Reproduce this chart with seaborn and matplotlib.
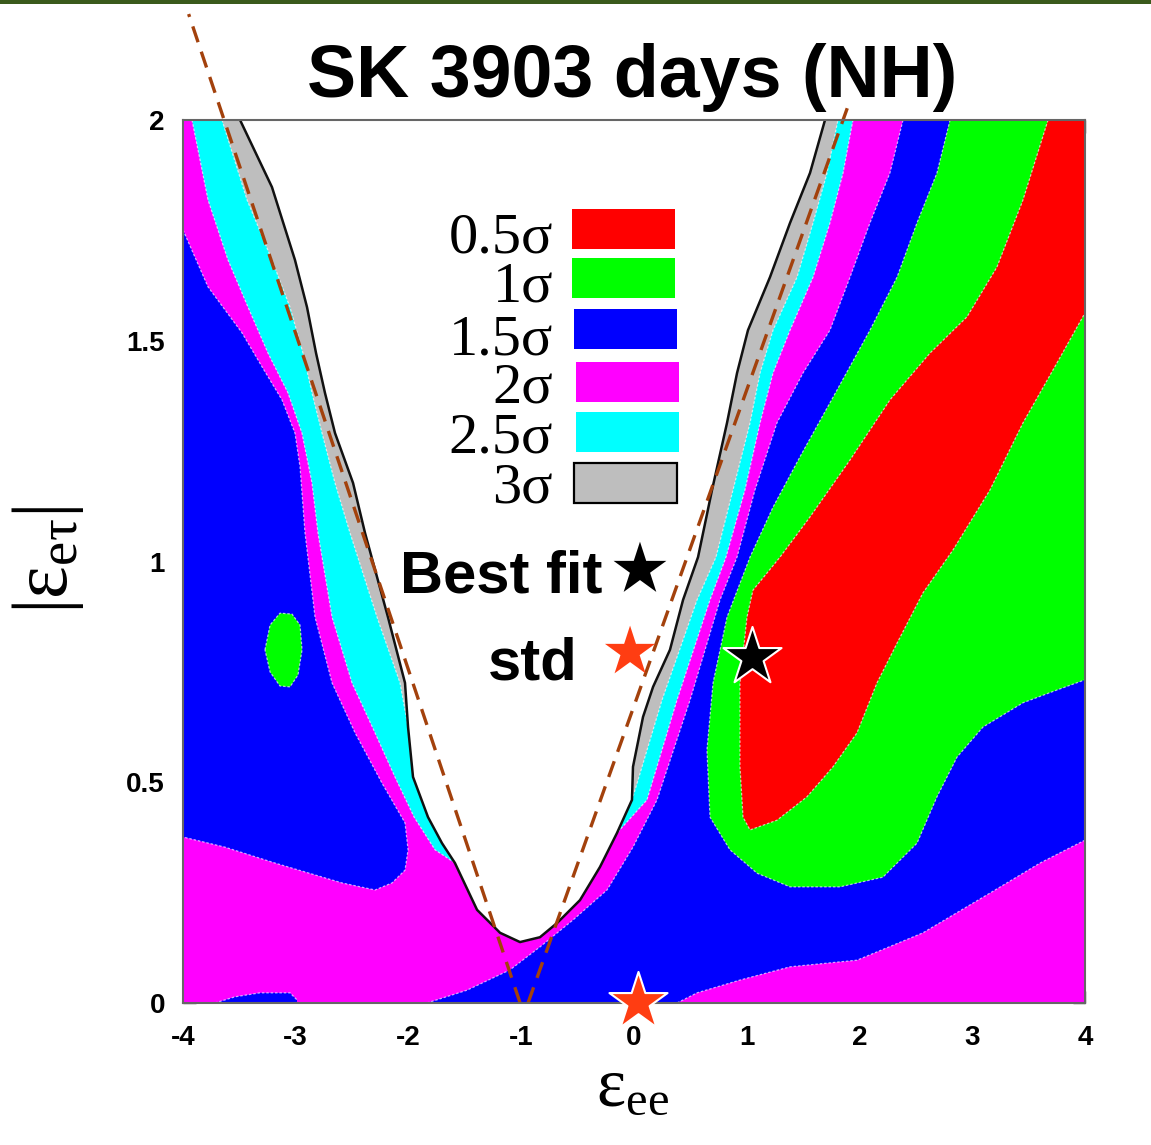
import matplotlib
matplotlib.use('Agg')
import matplotlib.pyplot as plt
import seaborn as sns
import pandas as pd
from matplotlib.patches import Rectangle

sns.set_theme(style='ticks')
plt.rcParams['font.family'] = ['Liberation Sans', 'DejaVu Sans']
plt.rcParams['mathtext.fontset'] = 'custom'
plt.rcParams['mathtext.rm'] = 'Liberation Serif'
plt.rcParams['mathtext.it'] = 'Liberation Serif:italic'
plt.rcParams['text.color'] = 'black'
plt.rcParams['axes.labelcolor'] = 'black'
plt.rcParams['xtick.color'] = 'black'
plt.rcParams['ytick.color'] = 'black'

# ---------------- data ----------------
title = 'SK 3903 days (NH)'
x_ticks = [-4, -3, -2, -1, 0, 1, 2, 3, 4]
x_tick_labels = ['-4', '-3', '-2', '-1', '0', '1', '2', '3', '4']
y_ticks = [0, 0.5, 1, 1.5, 2]
y_tick_labels = ['0', '0.5', '1', '1.5', '2']

sigma_labels = ['0.5σ', '1σ', '1.5σ', '2σ', '2.5σ', '3σ']
sigma_colors = ['#ff0000', '#00ff00', '#0000ff', '#ff00ff', '#00ffff', '#bebebe']

# whole plane (2 sigma background)
bg_x = [-4, 4, 4, -4]
bg_y = [0, 0, 2, 2]

# >3 sigma excluded region boundary (white)
white_x = [-3.494, -3.211, -3.007, -2.900, -2.820, -2.741, -2.652, -2.492, -2.386, -2.182,
           -2.031, -2.004, -1.960, -1.827, -1.703, -1.588, -1.392, -1.188, -1.011, -0.834,
           -0.683, -0.479, -0.302, -0.151, -0.018, -0.009, 0.080, 0.169, 0.319, 0.435,
           0.568, 0.692, 0.825, 0.914, 1.011, 1.206, 1.384, 1.561, 1.694]
white_y = [2.000, 1.848, 1.683, 1.576, 1.472, 1.382, 1.291, 1.178, 1.065, 0.874,
           0.725, 0.625, 0.512, 0.421, 0.362, 0.317, 0.211, 0.159, 0.138, 0.149,
           0.181, 0.233, 0.308, 0.385, 0.460, 0.535, 0.648, 0.716, 0.800, 0.913,
           1.010, 1.162, 1.314, 1.427, 1.524, 1.644, 1.767, 1.880, 2.000]

# 3 sigma outer boundary (grey)
grey_x = [-3.654, -3.432, -3.211, -3.051, -2.936, -2.856, -2.767, -2.652, -2.519, -2.279,
          -2.075, -2.004, -1.960, -1.827, -1.703, -1.588, -1.392, -1.188, -1.011, -0.834,
          -0.683, -0.479, -0.302, -0.151, -0.018, 0.030, 0.248, 0.559, 0.727, 0.878,
          1.029, 1.118, 1.233, 1.446, 1.588, 1.712, 1.809]
grey_y = [2.000, 1.819, 1.683, 1.576, 1.472, 1.382, 1.291, 1.178, 1.065, 0.874,
          0.725, 0.625, 0.512, 0.421, 0.362, 0.317, 0.211, 0.159, 0.138, 0.149,
          0.181, 0.233, 0.308, 0.385, 0.460, 0.500, 0.686, 0.913, 1.010, 1.162,
          1.314, 1.427, 1.524, 1.644, 1.767, 1.880, 2.000]

# 2.5 sigma outer boundary (cyan)
cyan_x = [-3.920, -3.778, -3.601, -3.423, -3.246, -3.069, -2.945, -2.856, -2.803, -2.678,
          -2.501, -2.297, -2.120, -1.950, -1.765, -1.588, -1.392, -1.188, -1.011, -0.834,
          -0.683, -0.479, -0.302, -0.151, 0.115, 0.381, 0.674, 0.816, 0.984, 1.118,
          1.233, 1.384, 1.588, 1.738, 1.854, 1.942]
cyan_y = [2.000, 1.819, 1.683, 1.576, 1.472, 1.382, 1.291, 1.178, 1.065, 0.874,
          0.725, 0.612, 0.512, 0.421, 0.347, 0.317, 0.211, 0.159, 0.138, 0.149,
          0.181, 0.233, 0.308, 0.385, 0.460, 0.686, 0.913, 1.010, 1.162, 1.314,
          1.427, 1.524, 1.644, 1.767, 1.880, 2.000]

# 1.5 sigma region, left
blue_left_x = [-4.000, -3.778, -3.477, -3.299, -3.122, -3.007, -2.962, -2.918, -2.829, -2.678,
               -2.474, -2.235, -2.031, -2.004, -2.031, -2.146, -2.297, -2.590, -3.184, -3.627,
               -4.000]
blue_left_y = [1.751, 1.622, 1.518, 1.441, 1.366, 1.291, 1.214, 1.065, 0.874, 0.725,
               0.612, 0.498, 0.408, 0.347, 0.301, 0.272, 0.256, 0.272, 0.317, 0.353,
               0.376]

# 1.5 sigma sliver at the bottom left
blue_sliver_x = [-3.716, -3.539, -3.317, -3.051, -2.989, -2.989]
blue_sliver_y = [0.000, 0.014, 0.023, 0.023, 0.007, 0.000]

# 1.5 sigma region, right: lower boundary and left boundary
blue_right_low_x = [4.000, 3.601, 3.157, 2.563, 1.978, 1.384, 0.940, 0.559, 0.381]
blue_right_low_y = [0.369, 0.317, 0.249, 0.159, 0.097, 0.082, 0.052, 0.023, 0.000]
blue_right_left_x = [-1.836, -1.481, -1.100, -0.834, -0.541, -0.239, -0.009, 0.204, 0.497, 0.763,
                     0.914, 1.073, 1.268, 1.499, 1.738, 1.916, 2.093, 2.270, 2.386]
blue_right_left_y = [0.000, 0.029, 0.075, 0.127, 0.188, 0.256, 0.353, 0.460, 0.686, 0.913,
                     1.010, 1.162, 1.314, 1.427, 1.524, 1.644, 1.767, 1.880, 2.000]

# 1 sigma region (right)
green_x = [2.803, 2.687, 2.510, 2.333, 2.093, 1.800, 1.472, 1.233, 1.029, 0.825,
           0.701, 0.647, 0.674, 0.851, 1.091, 1.384, 1.827, 2.208, 2.510, 2.687,
           2.865, 3.095, 3.450, 3.752, 4.000]
green_y = [2.000, 1.880, 1.767, 1.644, 1.524, 1.388, 1.237, 1.123, 1.010, 0.874,
           0.725, 0.573, 0.421, 0.347, 0.294, 0.263, 0.263, 0.285, 0.362, 0.467,
           0.557, 0.625, 0.680, 0.709, 0.732]

# 1 sigma island (left)
island_x = [-3.273, -3.228, -3.140, -3.033, -2.962, -2.944, -2.980, -3.051, -3.140, -3.228]
island_y = [0.800, 0.856, 0.883, 0.881, 0.856, 0.800, 0.743, 0.716, 0.718, 0.750]

# 0.5 sigma region
red_x = [3.672, 3.450, 3.219, 2.953, 2.625, 2.270, 1.916, 1.561, 1.295, 1.055,
         1.002, 0.940, 0.940, 0.967, 1.029, 1.268, 1.534, 1.765, 1.978, 2.155,
         2.333, 2.563, 2.829, 3.157, 3.450, 3.752, 4.000]
red_y = [2.000, 1.819, 1.667, 1.554, 1.472, 1.366, 1.230, 1.101, 1.010, 0.935,
         0.874, 0.725, 0.535, 0.421, 0.392, 0.414, 0.467, 0.535, 0.612, 0.725,
         0.815, 0.929, 1.026, 1.162, 1.314, 1.450, 1.563]

corner_x = [4.0]
corner_y = [2.0]

# dashed lines
dash_left_x = [-1.01, -3.95]
dash_left_y = [0.0, 2.24]
dash_right_x = [-0.94, 1.91]
dash_right_y = [0.0, 2.04]

# stars
best_fit = pd.DataFrame({'x': [1.047], 'y': [0.784]})
std_point = pd.DataFrame({'x': [0.035], 'y': [0.002]})
key_best = pd.DataFrame({'x': [0.053], 'y': [0.982]})
key_std = pd.DataFrame({'x': [-0.035], 'y': [0.795]})

# ---------------- figure ----------------
W, H = 1151, 1145
fig = plt.figure(figsize=(W / 100, H / 100), dpi=100)
ax = fig.add_axes([183 / W, 1 - 1003 / H, (1085 - 183) / W, (1003 - 120) / H])

MAG, BLUE, GREEN, RED, CYAN, GREY = '#ff00ff', '#0000ff', '#00ff00', '#ff0000', '#00ffff', '#bebebe'
edge_kw = dict(color='white', lw=0.9, ls=(0, (2, 1.5)), alpha=0.65, zorder=1.5)

ax.fill(bg_x, bg_y, color=MAG, lw=0, zorder=1)
ax.fill(blue_left_x, blue_left_y, color=BLUE, lw=0, zorder=1)
ax.plot(blue_left_x, blue_left_y, **edge_kw)
ax.fill(blue_sliver_x, blue_sliver_y, color=BLUE, lw=0, zorder=1)
ax.plot(blue_sliver_x[:-1], blue_sliver_y[:-1], **edge_kw)
ax.fill(blue_right_low_x + blue_right_left_x + corner_x,
        blue_right_low_y + blue_right_left_y + corner_y, color=BLUE, lw=0, zorder=1)
ax.plot(blue_right_low_x, blue_right_low_y, **edge_kw)
ax.plot(blue_right_left_x, blue_right_left_y, **edge_kw)
ax.fill(green_x + corner_x, green_y + corner_y, color=GREEN, lw=0, zorder=1)
ax.plot(green_x, green_y, **edge_kw)
ax.fill(red_x + corner_x, red_y + corner_y, color=RED, lw=0, zorder=1)
ax.plot(red_x, red_y, **edge_kw)
ax.fill(island_x, island_y, color=GREEN, lw=0, zorder=1)
ax.plot(island_x + island_x[:1], island_y + island_y[:1], **edge_kw)
ax.fill(cyan_x, cyan_y, color=CYAN, lw=0, zorder=1.6)
ax.plot(cyan_x, cyan_y, **{**edge_kw, 'zorder': 1.7})
ax.fill(grey_x, grey_y, color=GREY, lw=0, zorder=1.8)
ax.plot(grey_x, grey_y, **{**edge_kw, 'zorder': 1.85})
ax.fill(white_x, white_y, color='white', lw=0, zorder=1.9)
ax.plot(white_x, white_y, color='#111111', lw=1.8, zorder=2)

# dashed lines
dash_color = '#a3410c'
for dx, dy in [(dash_left_x, dash_left_y), (dash_right_x, dash_right_y)]:
    ax.plot(dx, dy, color=dash_color, lw=2.4, ls=(0, (5, 3)), clip_on=False, zorder=4)

# stars
sns.scatterplot(data=best_fit, x='x', y='y', marker='*', s=44 ** 2, color='black',
                edgecolor='white', linewidth=1.5, ax=ax, zorder=6, clip_on=False, legend=False)
sns.scatterplot(data=std_point, x='x', y='y', marker='*', s=44 ** 2, color='#ff3d12',
                edgecolor='white', linewidth=1.5, ax=ax, zorder=6, clip_on=False, legend=False)
sns.scatterplot(data=key_best, x='x', y='y', marker='*', s=40 ** 2, color='black',
                edgecolor='none', linewidth=0, ax=ax, zorder=6, legend=False)
sns.scatterplot(data=key_std, x='x', y='y', marker='*', s=38 ** 2, color='#ff3d12',
                edgecolor='none', linewidth=0, ax=ax, zorder=6, legend=False)

ax.text(-0.284, 0.929, 'Best fit', ha='right', va='baseline', fontsize=43,
        fontweight='bold', color='black', zorder=7)
ax.text(-0.505, 0.732, 'std', ha='right', va='baseline', fontsize=43,
        fontweight='bold', color='black', zorder=7)

# sigma key
key_text_y = [1.699, 1.588, 1.468, 1.361, 1.246, 1.133]
key_rect = [(-0.550, 1.708), (-0.550, 1.597), (-0.532, 1.481),
            (-0.514, 1.361), (-0.514, 1.248), (-0.532, 1.132)]
for lab, col, ty, (rx, ry) in zip(sigma_labels, sigma_colors, key_text_y, key_rect):
    ax.text(-0.718, ty, lab, ha='right', va='baseline', fontsize=42,
            family=['Liberation Serif', 'DejaVu Serif'], color='black', zorder=7)
    ec = 'black' if lab == '3σ' else 'none'
    ax.add_patch(Rectangle((rx, ry), 0.914, 0.090, facecolor=col, edgecolor=ec,
                           lw=1.6, zorder=7))

# axes
ax.set_xlim(-4, 4)
ax.set_ylim(0, 2)
ax.set_xticks(x_ticks)
ax.set_xticklabels(x_tick_labels)
ax.set_yticks(y_ticks)
ax.set_yticklabels(y_tick_labels)
ax.set_xlabel('')
ax.set_ylabel('')
ax.tick_params(axis='both', direction='in', length=9, width=1.0, color='#444444',
               labelcolor='black', top=True, right=True, labelsize=20)
ax.tick_params(axis='x', pad=16)
ax.tick_params(axis='y', pad=13)
for lab in ax.get_xticklabels() + ax.get_yticklabels():
    lab.set_fontweight('bold')
for sp in ax.spines.values():
    sp.set_color('#666666')
    sp.set_linewidth(1.5)
    sp.set_zorder(5)

# titles / labels
fig.text(632 / W, 1 - 97 / H, title, ha='center', va='baseline', fontsize=53,
         fontweight='bold', color='black')
fig.text(48 / W, 1 - 560 / H, r'$|\mathrm{ε}_{\mathrm{eτ}}|$', rotation=90,
         ha='center', va='center', fontsize=56, color='black')
fig.text(633 / W, 1 - 1105 / H, r'$\mathrm{ε}_{\mathrm{ee}}$', ha='center',
         va='baseline', fontsize=50, color='black')

# slide header bar
fig.add_artist(Rectangle((0, 1 - 4 / H), 1, 4 / H, transform=fig.transFigure,
                         color='#3a5a1c', lw=0))

fig.savefig('out.png', dpi=100)
